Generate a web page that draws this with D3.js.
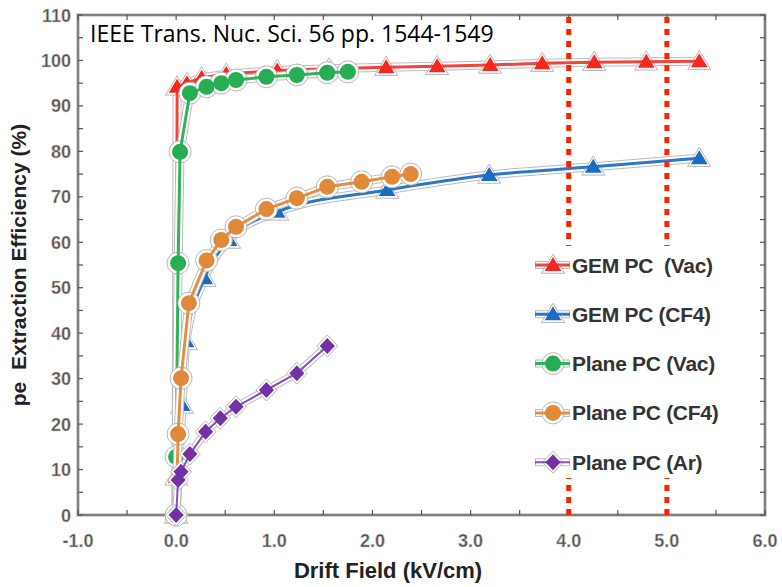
<!DOCTYPE html>
<meta charset="utf-8">
<style>
  body { margin: 0; background: #fff; }
  text { white-space: pre; }
  .tick-label {
    font: bold 18px "Liberation Sans", Arial, sans-serif;
    fill: #4d4d4d;
    stroke: #d0d0d0;
    stroke-width: 0.6px;
  }
  .axis-title {
    font: bold 21px "Liberation Sans", Arial, sans-serif;
    fill: #222;
  }
  .legend-label {
    font: bold 21px "Liberation Sans", Arial, sans-serif;
    fill: #333;
    letter-spacing: -0.3px;
  }
  .note {
    font: 23px "Open Sans", sans-serif;
    fill: #000;
  }
</style>
<svg width="782" height="587"></svg>
<script src="https://d3js.org/d3.v7.min.js"></script>
<script>

  // ---- data ----
  var gemVacX = [0, 0, 0.01, 0.11, 0.26, 0.51, 1.03, 1.56, 2.14, 2.66, 3.2, 3.73, 4.26, 4.79, 5.33];
  var gemVacY = [0, 8.4, 94.2, 95.0, 96.2, 97.0, 97.8, 98.2, 98.5, 98.7, 99.0, 99.4, 99.6, 99.7, 99.8];

  var gemCf4X = [0, 0.06, 0.1, 0.29, 0.54, 1.03, 2.15, 3.19, 4.25, 5.33];
  var gemCf4Y = [0, 24.2, 38.2, 52.1, 60.5, 66.7, 71.5, 74.8, 76.6, 78.5];

  var planeVacX = [0, 0.0, 0.02, 0.04, 0.14, 0.31, 0.46, 0.61, 0.92, 1.23, 1.54, 1.75];
  var planeVacY = [0, 12.8, 55.4, 79.9, 92.8, 94.2, 95.0, 95.7, 96.4, 96.8, 97.3, 97.5];

  var planeCf4X = [0, 0.02, 0.05, 0.13, 0.31, 0.46, 0.61, 0.92, 1.23, 1.54, 1.89, 2.2, 2.39];
  var planeCf4Y = [0, 17.8, 30.1, 46.6, 56.0, 60.5, 63.4, 67.3, 69.7, 72.2, 73.3, 74.4, 75.0];

  var planeArX = [0, 0.02, 0.05, 0.14, 0.3, 0.45, 0.61, 0.92, 1.23, 1.54];
  var planeArY = [0, 7.7, 9.5, 13.4, 18.3, 21.3, 23.8, 27.5, 31.2, 37.2];

  var seriesNames = ["GEM PC  (Vac)", "GEM PC (CF4)", "Plane PC (Vac)", "Plane PC (CF4)", "Plane PC (Ar)"];
  var xTickLabels = ["-1.0", "0.0", "1.0", "2.0", "3.0", "4.0", "5.0", "6.0"];
  var yTickLabels = ["0", "10", "20", "30", "40", "50", "60", "70", "80", "90", "100", "110"];
  var markerLines = [4.0, 5.0];
  var note = "IEEE Trans. Nuc. Sci. 56 pp. 1544-1549";

  function zip(xs, ys) {
    return xs.map(function (x, i) { return { x: x, y: ys[i] }; });
  }

  var series = [
    { name: seriesNames[0], pts: zip(gemVacX, gemVacY), color: "#f3281e", line: "#f0453c", shape: "tri", curve: d3.curveLinear },
    { name: seriesNames[1], pts: zip(gemCf4X, gemCf4Y), color: "#1c6cc0", line: "#2a78c8", shape: "tri", curve: d3.curveMonotoneX },
    { name: seriesNames[2], pts: zip(planeVacX, planeVacY), color: "#27ae52", line: "#2fb458", shape: "circle", curve: d3.curveLinear },
    { name: seriesNames[3], pts: zip(planeCf4X, planeCf4Y), color: "#e0893a", line: "#e39044", shape: "circle", curve: d3.curveLinear },
    { name: seriesNames[4], pts: zip(planeArX, planeArY), color: "#7232a6", line: "#8650b4", shape: "diamond", curve: d3.curveLinear }
  ];

  var svg = d3.select("svg");
  var margin = { left: 78, right: 17, top: 15, bottom: 72 };
  var width = 782 - margin.left - margin.right,
    height = 587 - margin.top - margin.bottom;

  var x = d3.scaleLinear().domain([-1, 6]).range([margin.left, margin.left + width]);
  var y = d3.scaleLinear().domain([0, 110]).range([margin.top + height, margin.top]);

  var g = svg.append("g");

  // frame with a soft grey edge
  [["#d4d4d4", 4], ["#6a6a6a", 1.6]].forEach(function (s) {
    g.append("rect")
      .attr("x", x(-1)).attr("y", y(110))
      .attr("width", x(6) - x(-1)).attr("height", y(0) - y(110))
      .attr("fill", "none").attr("stroke", s[0]).attr("stroke-width", s[1]);
  });

  // minor ticks
  var xt = d3.range(-1, 6.01, 0.5);
  var yt = d3.range(0, 110.1, 5);
  var tickStroke = "#555";
  g.selectAll(".xtb").data(xt).enter().append("line")
    .attr("x1", function (d) { return x(d); }).attr("x2", function (d) { return x(d); })
    .attr("y1", y(0)).attr("y2", y(0) - 5).attr("stroke", tickStroke).attr("stroke-width", 1.2);
  g.selectAll(".xtt").data(xt).enter().append("line")
    .attr("x1", function (d) { return x(d); }).attr("x2", function (d) { return x(d); })
    .attr("y1", y(110)).attr("y2", y(110) + 5).attr("stroke", tickStroke).attr("stroke-width", 1.2);
  g.selectAll(".ytl").data(yt).enter().append("line")
    .attr("x1", x(-1)).attr("x2", x(-1) + 5)
    .attr("y1", function (d) { return y(d); }).attr("y2", function (d) { return y(d); })
    .attr("stroke", tickStroke).attr("stroke-width", 1.2);
  g.selectAll(".ytr").data(yt).enter().append("line")
    .attr("x1", x(6)).attr("x2", x(6) - 5)
    .attr("y1", function (d) { return y(d); }).attr("y2", function (d) { return y(d); })
    .attr("stroke", tickStroke).attr("stroke-width", 1.2);

  // tick labels
  g.selectAll(".xl").data(xTickLabels).enter().append("text")
    .attr("class", "tick-label")
    .attr("x", function (d) { return x(+d); })
    .attr("y", y(0) + 32)
    .attr("text-anchor", "middle")
    .text(function (d) { return d; });
  g.selectAll(".yl").data(yTickLabels).enter().append("text")
    .attr("class", "tick-label")
    .attr("x", x(-1) - 7)
    .attr("y", function (d) { return y(+d) + 6.5; })
    .attr("text-anchor", "end")
    .text(function (d) { return d; });

  // axis titles
  g.append("text").attr("class", "axis-title")
    .attr("x", 388).attr("y", 578).attr("text-anchor", "middle")
    .style("font-size", "22px")
    .text("Drift Field (kV/cm)");
  g.append("text").attr("class", "axis-title")
    .attr("transform", "translate(26,265) rotate(-90)")
    .attr("text-anchor", "middle")
    .text("pe  Extraction Efficiency (%)");

  // symbols
  function drawMarker(sel, shape, color, cx, cy, halo) {
    var grow = halo ? 3 : 0;
    var fill = halo ? "#fff" : color;
    var stroke = halo ? "#b8b8b8" : "none";
    if (shape === "circle") {
      sel.append("circle").attr("cx", cx).attr("cy", cy).attr("r", 8 + grow)
        .attr("fill", fill).attr("stroke", stroke).attr("stroke-width", 1);
    } else if (shape === "tri") {
      var s = 8 + grow;
      sel.append("path")
        .attr("d", "M" + cx + "," + (cy - s) + "L" + (cx + s * 1.05) + "," + (cy + s * 0.75) + "L" + (cx - s * 1.05) + "," + (cy + s * 0.75) + "Z")
        .attr("fill", fill).attr("stroke", stroke).attr("stroke-width", 1);
    } else {
      var d = 8 + grow;
      sel.append("path")
        .attr("d", "M" + cx + "," + (cy - d) + "L" + (cx + d * 0.95) + "," + cy + "L" + cx + "," + (cy + d) + "L" + (cx - d * 0.95) + "," + cy + "Z")
        .attr("fill", fill).attr("stroke", stroke).attr("stroke-width", 1).attr("stroke-linejoin", "round");
    }
  }

  var plot = g.append("g");
  series.forEach(function (s) {
    var line = d3.line().x(function (d) { return x(d.x); }).y(function (d) { return y(d.y); }).curve(s.curve);
    var lw = s.shape === "diamond" ? 2 : 3;
    plot.append("path").attr("d", line(s.pts)).attr("fill", "none")
      .attr("stroke", "#bcbcbc").attr("stroke-width", lw + 6).attr("stroke-linejoin", "round");
    plot.append("path").attr("d", line(s.pts)).attr("fill", "none")
      .attr("stroke", "#fff").attr("stroke-width", lw + 4).attr("stroke-linejoin", "round");
    s.pts.forEach(function (p) { drawMarker(plot, s.shape, s.color, x(p.x), y(p.y), true); });
    plot.append("path").attr("d", line(s.pts)).attr("fill", "none")
      .attr("stroke", s.line).attr("stroke-width", lw).attr("stroke-linejoin", "round");
    s.pts.forEach(function (p) { drawMarker(plot, s.shape, s.color, x(p.x), y(p.y), false); });
  });

  // red dotted guide lines
  g.selectAll(".guide").data(markerLines).enter().append("line")
    .attr("x1", function (d) { return x(d); }).attr("x2", function (d) { return x(d); })
    .attr("y1", y(110) + 2).attr("y2", y(0) + 6)
    .attr("stroke", "#ff2200").attr("stroke-width", 5)
    .attr("stroke-dasharray", "6,6");

  // legend (white box hides the guide lines behind it)
  var leg = g.append("g");
  leg.append("rect").attr("x", 528).attr("y", 246).attr("width", 210).attr("height", 232).attr("fill", "#fff");
  series.forEach(function (s, i) {
    var ly = 265 + i * 49.3;
    leg.append("line").attr("x1", 535).attr("x2", 570).attr("y1", ly).attr("y2", ly)
      .attr("stroke", "#bcbcbc").attr("stroke-width", 8);
    leg.append("line").attr("x1", 536).attr("x2", 569).attr("y1", ly).attr("y2", ly)
      .attr("stroke", "#fff").attr("stroke-width", 6);
    drawMarker(leg, s.shape, s.color, 553, ly, true);
    leg.append("line").attr("x1", 535).attr("x2", 570).attr("y1", ly).attr("y2", ly)
      .attr("stroke", s.line).attr("stroke-width", s.shape === "diamond" ? 2 : 3);
    drawMarker(leg, s.shape, s.color, 553, ly, false);
    leg.append("text").attr("class", "legend-label")
      .attr("x", 572).attr("y", ly + 7.5)
      .text(s.name);
  });

  // citation note
  g.append("rect").attr("x", 86).attr("y", 20).attr("width", 418).attr("height", 28).attr("fill", "#fff");
  g.append("text").attr("class", "note").attr("x", 90).attr("y", 42).text(note);

</script>
